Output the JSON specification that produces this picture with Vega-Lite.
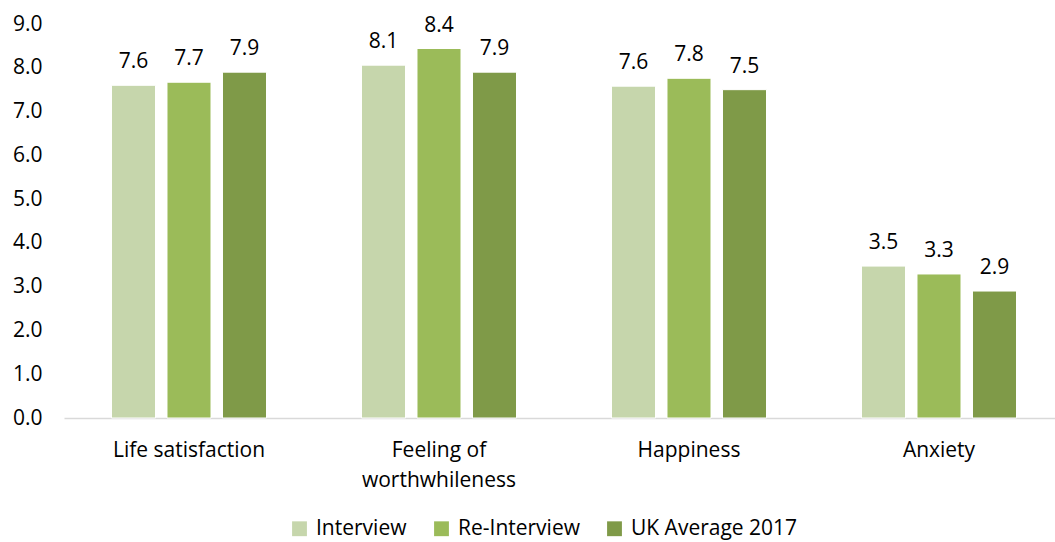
{
  "$schema": "https://vega.github.io/schema/vega-lite/v6.json",
  "autosize": {"type": "none"},
  "width": 1000,
  "height": 394,
  "padding": {"left": 64, "top": 24, "right": 0, "bottom": 124},
  "background": "white",
  "config": {
    "view": {"stroke": null},
    "font": "Open Sans",
    "axis": {"labelFont": "Open Sans", "labelFontSize": 21, "labelColor": "#000000", "grid": false, "ticks": false}
  },
  "data": {
    "values": [
      {"category": "Life satisfaction", "series": "Interview", "value": 7.6},
      {"category": "Life satisfaction", "series": "Re-Interview", "value": 7.67},
      {"category": "Life satisfaction", "series": "UK Average 2017", "value": 7.9},
      {"category": "Feeling of worthwhileness", "series": "Interview", "value": 8.06},
      {"category": "Feeling of worthwhileness", "series": "Re-Interview", "value": 8.44},
      {"category": "Feeling of worthwhileness", "series": "UK Average 2017", "value": 7.9},
      {"category": "Happiness", "series": "Interview", "value": 7.58},
      {"category": "Happiness", "series": "Re-Interview", "value": 7.76},
      {"category": "Happiness", "series": "UK Average 2017", "value": 7.5},
      {"category": "Anxiety", "series": "Interview", "value": 3.47},
      {"category": "Anxiety", "series": "Re-Interview", "value": 3.29},
      {"category": "Anxiety", "series": "UK Average 2017", "value": 2.9}
    ]
  },
  "encoding": {
    "x": {
      "field": "category", "type": "nominal", "sort": null,
      "scale": {"paddingInner": 0.38, "paddingOuter": 0.19},
      "axis": {
        "title": null, "labelAngle": 0, "domainColor": "#D9D9D9", "domainWidth": 1.5,
        "labelPadding": 21, "labelLineHeight": 30,
        "labelExpr": "datum.value == 'Feeling of worthwhileness' ? ['Feeling of', 'worthwhileness'] : datum.value"
      }
    },
    "xOffset": {"field": "series", "type": "nominal", "scale": {"paddingInner": 0.207, "paddingOuter": 0}},
    "y": {
      "field": "value", "type": "quantitative",
      "scale": {"domain": [0, 9], "nice": false},
      "axis": {"title": null, "domain": false, "format": ".1f", "values": [0,1,2,3,4,5,6,7,8,9], "labelPadding": 22}
    }
  },
  "layer": [
    {
      "mark": {"type": "bar", "stroke": "white", "strokeWidth": 1},
      "encoding": {
        "color": {
          "field": "series", "type": "nominal",
          "scale": {"domain": ["Interview", "Re-Interview", "UK Average 2017"], "range": ["#C6D6AC", "#9BBB59", "#7F9A48"]},
          "legend": {
            "title": null, "orient": "none", "direction": "horizontal",
            "legendX": 225, "legendY": 494,
            "symbolType": "square", "symbolSize": 220, "symbolStrokeWidth": 0,
            "labelFont": "Open Sans", "labelFontSize": 21, "labelColor": "#000000", "labelLimit": 400,
            "columnPadding": 24, "labelOffset": 6
          }
        }
      }
    },
    {
      "mark": {"type": "text", "baseline": "bottom", "dy": -13, "fontSize": 21, "font": "Open Sans", "color": "#000000"},
      "encoding": {"text": {"field": "value", "type": "quantitative", "format": ".1f"}}
    }
  ]
}
